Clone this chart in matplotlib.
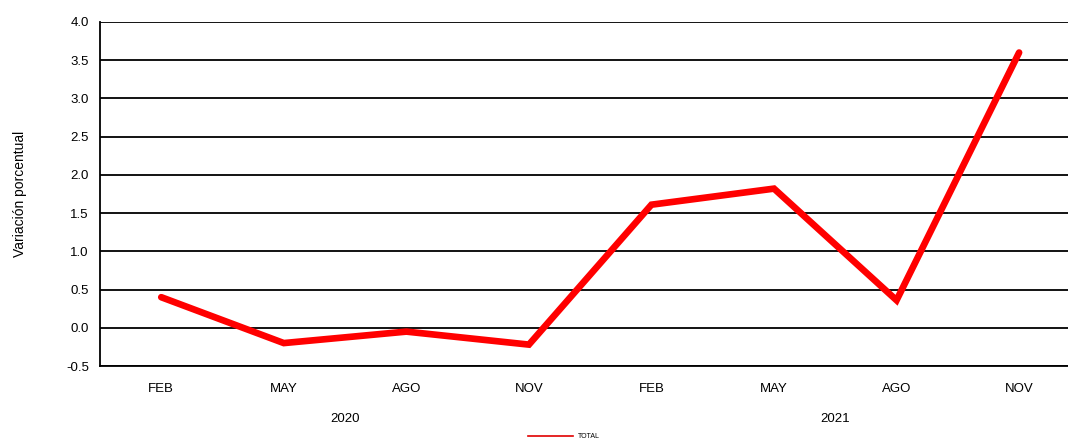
import matplotlib
matplotlib.use("Agg")
import matplotlib.pyplot as plt
from matplotlib.lines import Line2D

months = ["FEB", "MAY", "AGO", "NOV", "FEB", "MAY", "AGO", "NOV"]
years = ["2020", "2021"]
total = [0.4, -0.2, -0.05, -0.22, 1.61, 1.82, 0.36, 3.6]
yticks = [-0.5, 0.0, 0.5, 1.0, 1.5, 2.0, 2.5, 3.0, 3.5, 4.0]

plt.rcParams['font.family'] = ['Liberation Sans', 'DejaVu Sans']

fig = plt.figure(figsize=(10.68, 4.48), dpi=100)
ax = fig.add_axes([0.0936, 0.183, 0.918, 0.768])

x = list(range(len(months)))
ax.plot(x, total, color="#ff0000", lw=4.8, solid_joinstyle="miter",
        solid_capstyle="round", zorder=3)

ax.set_xlim(-0.5, len(months) - 0.5)
ax.set_ylim(-0.5, 4.0)
ax.set_yticks(yticks)
ax.set_yticklabels(["%.1f" % v for v in yticks], fontsize=9.5)
ax.set_xticks(x)
ax.set_xticklabels(months, fontsize=9.5)
ax.tick_params(length=0, pad=8)
ax.tick_params(axis="x", pad=12)
ax.grid(axis="y", color="black", lw=1.3)
ax.set_axisbelow(True)
for s in ["top", "right"]:
    ax.spines[s].set_visible(False)
for s in ["left", "bottom"]:
    ax.spines[s].set_linewidth(1.3)

ax.set_ylabel("Variación porcentual", fontsize=10, labelpad=28)

# year labels under month groups
for i, yr in enumerate(years):
    ax.text(i * 4 + 1.5, -0.155, yr, transform=ax.get_xaxis_transform(),
            ha="center", va="center", fontsize=9.5)

handle = Line2D([], [], color="#e00000", lw=1.2)
fig.legend([handle], ["TOTAL"], loc="center", bbox_to_anchor=(0.528, 0.025),
           frameon=False, fontsize=5, handlelength=6.5)

fig.savefig("out.png", dpi=100)
